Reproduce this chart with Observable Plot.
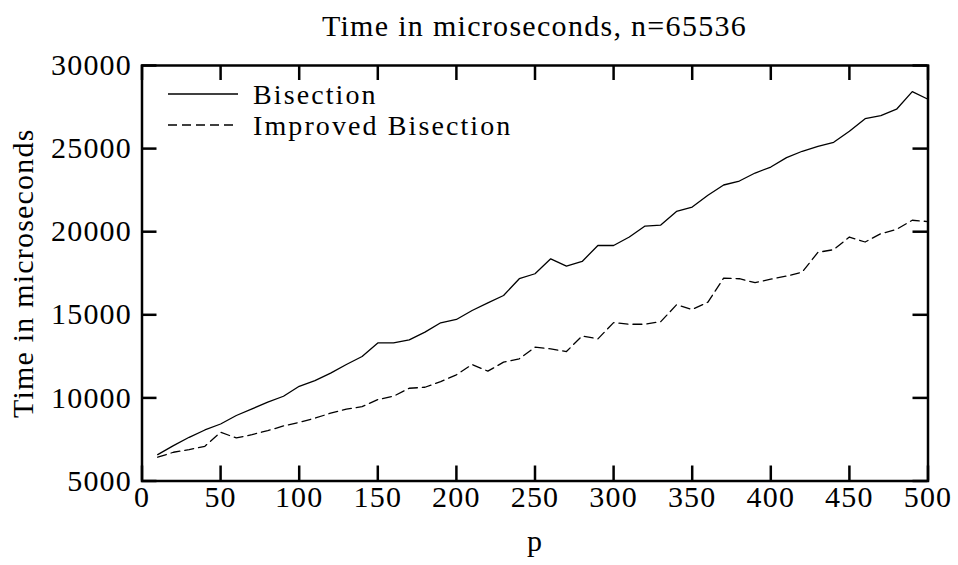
<!DOCTYPE html>
<html><head><meta charset="utf-8">
<script src="https://cdn.jsdelivr.net/npm/d3@7"></script>
<script src="https://cdn.jsdelivr.net/npm/@observablehq/plot@0.6"></script>
<style>
body{margin:0;background:#fff;}
#wrap{position:relative;width:958px;height:565px;font-family:"Liberation Serif",serif;color:#000;overflow:hidden;}
#title{position:absolute;top:11px;left:534.5px;transform:translateX(-50%);font-size:30px;letter-spacing:1.3px;white-space:nowrap;line-height:30px;}
#chart{position:absolute;top:45px;left:0;}
#legend{position:absolute;left:168px;top:78.5px;font-size:28px;letter-spacing:2.1px;line-height:31px;}
.row{display:flex;align-items:center;height:31px;white-space:nowrap;}
.row svg{margin-right:15px;}
</style></head>
<body><div id="wrap">
<div id="title">Time in microseconds, n=65536</div>
<div id="chart"></div>
<div id="legend"></div>
</div>
<script>
const pValues = [10,20,30,40,50,60,70,80,90,100,110,120,130,140,150,160,170,180,190,200,210,220,230,240,250,260,270,280,290,300,310,320,330,340,350,360,370,380,390,400,410,420,430,440,450,460,470,480,490,500];
const bisection = [6590,7130,7630,8070,8430,8940,9340,9740,10100,10700,
  11040,11490,12010,12490,13310,13310,13490,13960,14520,14720,
  15260,15720,16160,17170,17470,18370,17930,18210,19170,19170,
  19680,20340,20400,21220,21480,22190,22810,23050,23530,23890,
  24460,24840,25140,25380,26040,26800,26990,27370,28430,27970];
const improved = [6430,6730,6890,7090,7930,7590,7790,8030,8310,8530,
  8780,9080,9320,9480,9900,10100,10580,10640,10980,11390,
  12010,11610,12150,12350,13050,12950,12790,13730,13550,14530,
  14430,14430,14590,15600,15320,15760,17210,17170,16930,17150,
  17330,17570,18760,18920,19680,19380,19880,20140,20690,20610];
const seriesNames = ["Bisection", "Improved Bisection"];
const xTicks = [0,50,100,150,200,250,300,350,400,450,500];
const yTicks = [5000,10000,15000,20000,25000,30000];

const W = 958, H = 520, mL = 141.5, mR = 30.5, mT = 20, mB = 84.5;
const innerW = W - mL - mR, innerH = H - mT - mB;
const T = 15;

const chart = Plot.plot({
  width: W, height: H,
  marginLeft: mL, marginRight: mR, marginTop: mT, marginBottom: mB,
  style: "font-family:'Liberation Serif',serif;font-size:30px;letter-spacing:1.2px;background:white;color:black;overflow:visible;",
  x: {domain: [0, 500], ticks: xTicks, tickSize: 0, tickPadding: 5, tickFormat: d => String(d), label: "p", labelAnchor: "center", labelOffset: 70, labelArrow: "none"},
  y: {domain: [5000, 30000], ticks: yTicks, tickSize: 0, tickPadding: 10, tickFormat: d => String(d), label: "Time in microseconds", labelAnchor: "center", labelOffset: 130, labelArrow: "none"},
  marks: [
    Plot.tickX(xTicks, {x: d => d, insetTop: innerH - T, strokeWidth: 2.5}),
    Plot.tickX(xTicks, {x: d => d, insetBottom: innerH - T, strokeWidth: 2.5}),
    Plot.tickY(yTicks, {y: d => d, insetRight: innerW - T, strokeWidth: 2.5}),
    Plot.tickY(yTicks, {y: d => d, insetLeft: innerW - T, strokeWidth: 2.5}),
    Plot.lineY(bisection, {x: pValues, stroke: "black", strokeWidth: 1.3}),
    Plot.lineY(improved, {x: pValues, stroke: "black", strokeWidth: 1.3, strokeDasharray: "9,5"}),
    Plot.frame({stroke: "black", strokeWidth: 2.5})
  ]
});
document.getElementById("chart").appendChild(chart);

const legend = document.getElementById("legend");
seriesNames.forEach((name, i) => {
  const row = document.createElement("div");
  row.className = "row";
  row.innerHTML = `<svg width="70" height="4"><line x1="0" x2="70" y1="2" y2="2" stroke="black" stroke-width="1.3" ${i === 1 ? 'stroke-dasharray="9,5"' : ''}/></svg><span>${name}</span>`;
  legend.appendChild(row);
});
</script>
</body></html>
